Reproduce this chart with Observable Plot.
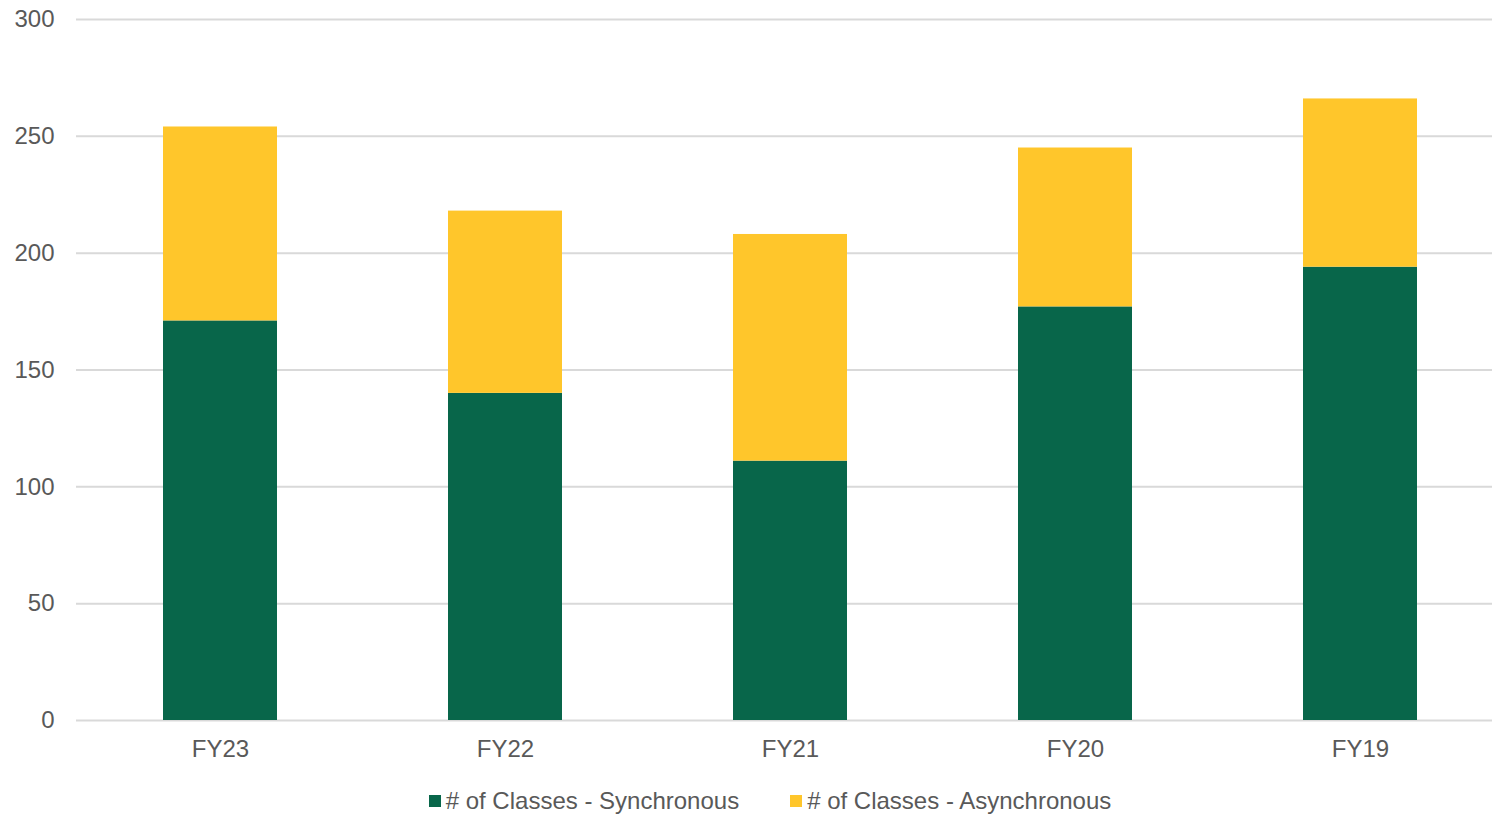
<!DOCTYPE html>
<html>
<head>
<meta charset="utf-8">
<script src="https://cdn.jsdelivr.net/npm/d3@7"></script>
<script src="https://cdn.jsdelivr.net/npm/@observablehq/plot@0.6"></script>
<style>
  html, body { margin: 0; padding: 0; background: #fff; }
  body { width: 1492px; height: 815px; overflow: hidden; font-family: "Liberation Sans", Arial, sans-serif; }
  #legend { position: absolute; top: 787px; left: 0; width: 1492px; display: flex; justify-content: center; gap: 51px; font-size: 24px; color: #595959; padding-left: 48px; box-sizing: border-box; }
  .item { display: flex; align-items: center; }
  .sw { width: 12px; height: 12px; margin-right: 5px; display: inline-block; }
</style>
</head>
<body>
<div id="chart"></div>
<div id="legend"></div>
<script>
const years = ["FY23", "FY22", "FY21", "FY20", "FY19"];
const synchronous = [171, 140, 111, 177, 194];
const asynchronous = [83, 78, 97, 68, 72];
const seriesNames = ["# of Classes - Synchronous", "# of Classes - Asynchronous"];
const seriesColors = ["#08664A", "#FFC62B"];
const yTicks = [0, 50, 100, 150, 200, 250, 300];

const rows = [];
years.forEach((y, i) => {
  rows.push({year: y, series: seriesNames[0], value: synchronous[i]});
  rows.push({year: y, series: seriesNames[1], value: asynchronous[i]});
});

const chart = Plot.plot({
  width: 1492,
  height: 775,
  marginTop: 19,
  marginBottom: 55,
  marginLeft: 76,
  marginRight: 0,
  style: {fontFamily: "'Liberation Sans', Arial, sans-serif", fontSize: "24px", color: "#595959", background: "#fff", overflow: "visible"},
  x: {domain: years, range: [75, 1504], paddingInner: 0.6, paddingOuter: 0.3, label: null},
  y: {domain: [0, 300], label: null},
  color: {domain: seriesNames, range: seriesColors},
  marks: [
    Plot.gridY(yTicks, {stroke: "#d9d9d9", strokeOpacity: 1, strokeWidth: 2}),
    Plot.barY(rows, {x: "year", y: "value", fill: "series", order: seriesNames}),
    Plot.axisY(yTicks, {tickSize: 0, tickPadding: 22, fill: "#595959", fontSize: 24}),
    Plot.axisX({tickSize: 0, tickPadding: 19, fill: "#595959", fontSize: 24})
  ]
});
document.getElementById("chart").appendChild(chart);

const legend = document.getElementById("legend");
seriesNames.forEach((n, i) => {
  const d = document.createElement("div");
  d.className = "item";
  d.innerHTML = `<span class="sw" style="background:${seriesColors[i]}"></span><span>${n}</span>`;
  legend.appendChild(d);
});
</script>
</body>
</html>
